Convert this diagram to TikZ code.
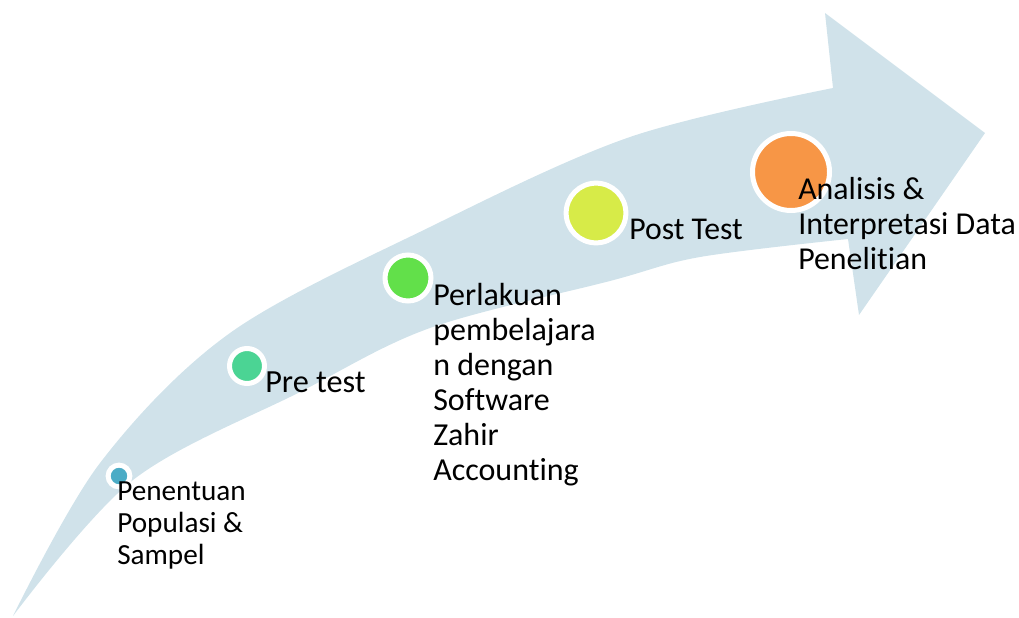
\documentclass[tikz,border=0pt]{standalone}
\usepackage{fontspec}
\setmainfont[Ligatures={NoCommon,NoContextual}]{Carlito}
\definecolor{arrowblue}{RGB}{208,226,234}
\definecolor{cteal}{RGB}{75,172,198}
\definecolor{cmint}{RGB}{75,212,148}
\definecolor{cgreen}{RGB}{98,224,74}
\definecolor{cyellow}{RGB}{215,235,72}
\definecolor{corange}{RGB}{247,150,70}
\tikzset{
  dot/.style={circle, draw=white, line width=3.75pt, inner sep=0pt},
  lbl/.style={anchor=base west, align=left, inner sep=0pt, text=black}
}
\begin{document}
\begin{tikzpicture}[x=0.75pt,y=-0.75pt]
\useasboundingbox (0,0) rectangle (1019,617);
% curved arrow
\fill[arrowblue] plot[smooth, tension=0.55] coordinates {(13,616) (100,463) (230,333) (430,227) (630,137) (833,88)}
  -- (825,13) -- (985,133) -- (859,315) -- (848,239)
  -- plot[smooth, tension=0.55] coordinates {(848,239) (700,257) (610,281) (430,328) (300,392) (133,480) (13,616)} -- cycle;
% dots
\node[dot, fill=cteal, minimum size=16.3pt] (d1) at (119,476) {};
\node[dot, fill=cmint, minimum size=26.25pt] (d2) at (247,366) {};
\node[dot, fill=cgreen, minimum size=34.5pt] (d3) at (408,278) {};
\node[dot, fill=cyellow, minimum size=44.8pt] (d4) at (596,213) {};
\node[dot, fill=corange, minimum size=57.75pt] (d5) at (791,172) {};
% labels (anchor = baseline of last line)
\node[lbl, font=\fontsize{21.9pt}{24pt}\selectfont] (t1) at (117,564) {Penentuan\\Populasi \&\\Sampel};
\node[lbl, font=\fontsize{24.2pt}{27pt}\selectfont] (t2) at (265,392) {Pre test};
\node[lbl, font=\fontsize{24pt}{26.25pt}\selectfont] (t3) at (433,480) {Perlakuan\\pembelajara\\n dengan\\Software\\Zahir\\Accounting};
\node[lbl, font=\fontsize{23.8pt}{27pt}\selectfont] (t4) at (629,239) {Post Test};
\node[lbl, font=\fontsize{23.9pt}{26.25pt}\selectfont] (t5) at (798,269) {Analisis \&\\Interpretasi Data\\Penelitian};
\end{tikzpicture}
\end{document}
